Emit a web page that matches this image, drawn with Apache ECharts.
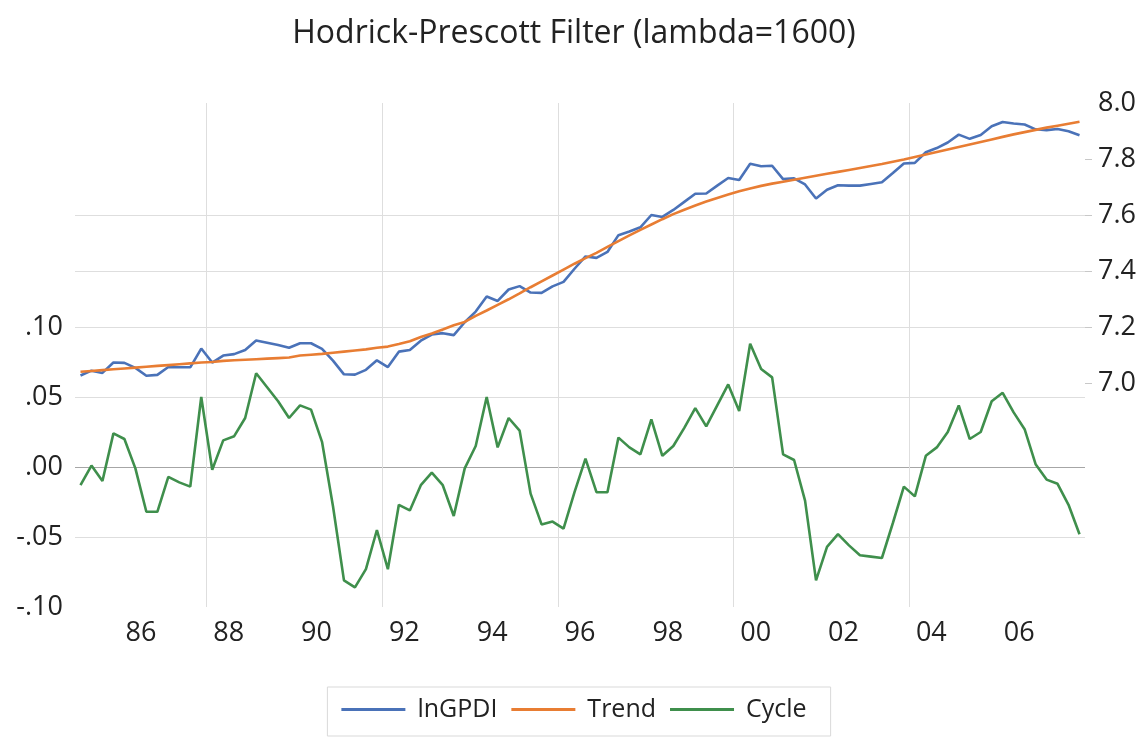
<!DOCTYPE html>
<html lang="en">
<head>
    <meta charset="UTF-8">
    <title>Hodrick-Prescott Filter</title>
    <style>
        body{ margin: 0; background: #fff; }
    </style>
</head>
<body>
<div id="myChart" style="width: 1148px;height: 738px;"></div>
<script src="https://cdn.jsdelivr.net/npm/echarts@6/dist/echarts.min.js"></script>
<script>
    // quarters 1985Q1 .. 2007Q4
    let startYear = 1985;
    let endYear = 2007;
    let quarters = [];
    for (let y = startYear; y <= endYear; y++) {
        for (let q = 1; q <= 4; q++) quarters.push(y + 'Q' + q);
    }

    // log of gross private domestic investment (right axis)
    let lnGPDI = [
        7.027, 7.044, 7.036, 7.073, 7.072, 7.054, 7.026, 7.029, 7.057, 7.056, 7.056, 7.123,
        7.073, 7.098, 7.103, 7.118, 7.152, 7.144, 7.136, 7.126, 7.142, 7.142, 7.122, 7.080,
        7.031, 7.030, 7.047, 7.081, 7.057, 7.112, 7.118, 7.151, 7.173, 7.178, 7.171, 7.217,
        7.255, 7.309, 7.293, 7.334, 7.346, 7.323, 7.322, 7.345, 7.361, 7.408, 7.452, 7.447,
        7.468, 7.528, 7.541, 7.556, 7.600, 7.593, 7.618, 7.647, 7.676, 7.677, 7.705, 7.732,
        7.725, 7.783, 7.774, 7.776, 7.728, 7.731, 7.709, 7.659, 7.690, 7.706, 7.705, 7.705,
        7.711, 7.717, 7.750, 7.784, 7.786, 7.824, 7.839, 7.859, 7.887, 7.872, 7.886, 7.917,
        7.932, 7.927, 7.923, 7.906, 7.903, 7.907, 7.899, 7.885
    ];
    // HP trend (right axis)
    let trend = [
        7.040, 7.043, 7.046, 7.049, 7.052, 7.055, 7.058, 7.061, 7.064, 7.067, 7.070, 7.073,
        7.075, 7.079, 7.081, 7.083, 7.085, 7.087, 7.089, 7.091, 7.098, 7.101, 7.104, 7.108,
        7.112, 7.116, 7.120, 7.126, 7.130, 7.139, 7.149, 7.164, 7.177, 7.191, 7.206, 7.218,
        7.240, 7.259, 7.279, 7.299, 7.320, 7.342, 7.363, 7.384, 7.405, 7.426, 7.446, 7.465,
        7.486, 7.507, 7.527, 7.547, 7.566, 7.585, 7.603, 7.619, 7.634, 7.648, 7.661, 7.673,
        7.685, 7.695, 7.704, 7.712, 7.719, 7.726, 7.733, 7.740, 7.747, 7.754, 7.761, 7.768,
        7.775, 7.782, 7.790, 7.798, 7.807, 7.816, 7.825, 7.834, 7.843, 7.852, 7.861, 7.870,
        7.879, 7.888, 7.896, 7.904, 7.912, 7.919, 7.926, 7.933
    ];
    // cyclical component (left axis)
    let cycle = [
        -0.013, 0.001, -0.010, 0.024, 0.020, -0.001, -0.032, -0.032, -0.007, -0.011, -0.014, 0.050,
        -0.002, 0.019, 0.022, 0.035, 0.067, 0.057, 0.047, 0.035, 0.044, 0.041, 0.018, -0.028,
        -0.081, -0.086, -0.073, -0.045, -0.073, -0.027, -0.031, -0.013, -0.004, -0.013, -0.035, -0.001,
        0.015, 0.050, 0.014, 0.035, 0.026, -0.019, -0.041, -0.039, -0.044, -0.018, 0.006, -0.018,
        -0.018, 0.021, 0.014, 0.009, 0.034, 0.008, 0.015, 0.028, 0.042, 0.029, 0.044, 0.059,
        0.040, 0.088, 0.070, 0.064, 0.009, 0.005, -0.024, -0.081, -0.057, -0.048, -0.056, -0.063,
        -0.064, -0.065, -0.040, -0.014, -0.021, 0.008, 0.014, 0.025, 0.044, 0.020, 0.025, 0.047,
        0.053, 0.039, 0.027, 0.002, -0.009, -0.012, -0.027, -0.048
    ];
    let rightLabels = [7.0, 7.2, 7.4, 7.6, 7.8, 8.0];
    let rightGrid = [7.0, 7.2, 7.4, 7.6, 7.8];

    let fontFamily = '"Open Sans", "Noto Sans", sans-serif';
    let none = 'rgba(0,0,0,0)';
    let grid = '#dedede';

    var myChart = echarts.init(document.querySelector('#myChart'));
    option = {
        backgroundColor: '#fff',
        animation: false,
        textStyle: { fontFamily: fontFamily },
        title: {
            text: 'Hodrick-Prescott Filter (lambda=1600)',
            left: 'center',
            top: 13,
            textStyle: { fontSize: 32, fontWeight: 'normal', color: '#222', fontFamily: fontFamily }
        },
        legend: {
            top: 687,
            left: 'center',
            padding: [10, 24, 14, 14],
            borderColor: '#d9d9d9',
            borderWidth: 1,
            icon: 'rect',
            itemWidth: 64,
            itemHeight: 3,
            itemGap: 14,
            textStyle: { fontSize: 25, color: '#222', fontFamily: fontFamily, padding: [0, 0, 0, 7] },
            data: ['lnGPDI', 'Trend', 'Cycle']
        },
        // grid 0: levels on the right axis, grid 1: cycle on the left axis (same bottom, same scale)
        grid: [
            { left: 75, right: 63, top: 103, bottom: 131, containLabel: false },
            { left: 75, right: 63, top: 117, bottom: 131, containLabel: false }
        ],
        xAxis: [
            {
                type: 'category',
                gridIndex: 0,
                boundaryGap: true,
                data: quarters,
                axisLine: { show: false },
                axisTick: { show: false },
                axisLabel: {
                    interval: function (i) { return i % 8 === 5; },
                    formatter: function (v) { return v.slice(2, 4); },
                    padding: [0, 0, 0, 11],
                    margin: 13,
                    fontSize: 27,
                    color: '#222'
                },
                splitLine: {
                    show: true,
                    showMaxLine: false,
                    interval: function (i) { return i % 16 === 12; },
                    lineStyle: { color: grid, width: 1 }
                }
            },
            {
                type: 'category',
                gridIndex: 1,
                boundaryGap: true,
                data: quarters,
                show: false,
                splitLine: { show: false }
            }
        ],
        yAxis: [
            {
                type: 'value',
                gridIndex: 1,
                position: 'left',
                min: -0.10,
                max: 0.25,
                interval: 0.05,
                axisLine: { show: false },
                axisTick: { show: false },
                axisLabel: {
                    margin: 12,
                    fontSize: 27,
                    color: '#222',
                    formatter: function (v) {
                        if (v > 0.1001) return '';
                        return v.toFixed(2).replace('0.', '.');
                    }
                },
                splitLine: {
                    show: true,
                    lineStyle: { color: [none, grid, '#a6a6a6', grid, grid, none, none, none], width: 1 }
                }
            },
            {
                type: 'value',
                gridIndex: 0,
                position: 'right',
                min: 6.2,
                max: 8.0,
                interval: 0.2,
                axisLine: { show: false },
                axisTick: {
                    show: true,
                    length: 7,
                    customValues: rightGrid,
                    lineStyle: { color: '#c8c8c8' }
                },
                axisLabel: {
                    margin: 13,
                    fontSize: 27,
                    color: '#222',
                    customValues: rightLabels,
                    formatter: function (v) { return v.toFixed(1); }
                },
                splitLine: {
                    show: true,
                    showMinLine: false,
                    showMaxLine: false,
                    lineStyle: { color: [grid, grid, grid, grid, grid, grid, none], width: 1 }
                }
            }
        ],
        series: [
            {
                name: 'lnGPDI',
                type: 'line',
                xAxisIndex: 0,
                yAxisIndex: 1,
                symbol: 'none',
                lineStyle: { color: '#4a72b8', width: 2.6 },
                itemStyle: { color: '#4a72b8' },
                data: lnGPDI
            },
            {
                name: 'Trend',
                type: 'line',
                xAxisIndex: 0,
                yAxisIndex: 1,
                symbol: 'none',
                lineStyle: { color: '#e87d33', width: 2.6 },
                itemStyle: { color: '#e87d33' },
                data: trend
            },
            {
                name: 'Cycle',
                type: 'line',
                xAxisIndex: 1,
                yAxisIndex: 0,
                symbol: 'none',
                lineStyle: { color: '#3f8f4c', width: 2.6 },
                itemStyle: { color: '#3f8f4c' },
                data: cycle
            }
        ]
    };
    myChart.setOption(option);
</script>
</body>
</html>
